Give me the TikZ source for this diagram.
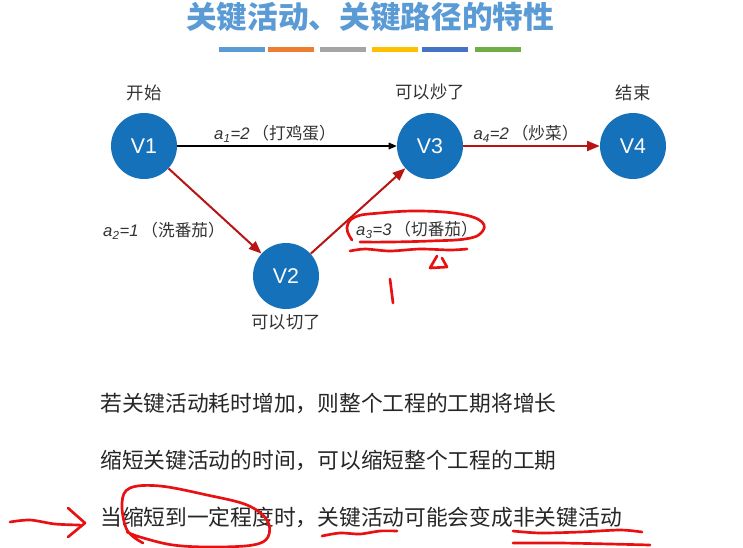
\documentclass[tikz,border=0pt]{standalone}
\usepackage{fontspec}
\setmainfont{Liberation Sans}
\newfontfamily\cjk{Noto Sans CJK SC}
\usetikzlibrary{arrows.meta, positioning}

\definecolor{vblue}{RGB}{20,113,186}
\definecolor{critred}{RGB}{185,20,20}
\definecolor{titleblue}{RGB}{91,155,213}
\definecolor{inkred}{RGB}{232,16,16}
\definecolor{barblue}{RGB}{91,155,213}
\definecolor{barorange}{RGB}{237,125,49}
\definecolor{bargray}{RGB}{165,165,165}
\definecolor{baryellow}{RGB}{255,192,0}
\definecolor{bardblue}{RGB}{68,114,196}
\definecolor{bargreen}{RGB}{112,173,71}

\begin{document}
\begin{tikzpicture}[
    x=0.75pt, y=-0.75pt,
    vertex/.style={circle, fill=vblue, minimum size=49.5pt, inner sep=0pt, text=white, font=\fontsize{16}{16}\selectfont},
    vlabel/.style={font=\cjk\fontsize{13}{13}\selectfont, text=black!80, inner sep=2pt},
    actlabel/.style={font=\fontsize{12.5}{12.5}\selectfont, text=black!80, inner sep=1pt},
    actarrow/.style={-{Triangle[length=6pt,width=5pt]}, line width=0.8pt, black},
    critarrow/.style={-{Triangle[length=9.5pt,width=7.5pt]}, line width=1.5pt, critred},
    body/.style={anchor=west, font=\cjk\fontsize{16.3}{16.3}\selectfont, text=black!85, inner sep=0pt},
    ink/.style={inkred, line width=2pt, line cap=round, line join=round},
    node distance=7pt
  ]
  \fill[white] (0,0) rectangle (743,547);
  \useasboundingbox (0,0) rectangle (743,547);

  % title and colour bars
  \node[font=\cjk\bfseries\fontsize{23}{23}\selectfont, text=titleblue] (title) at (370,17) {关键活动、关键路径的特性};
  \foreach \x/\c in {219/barblue, 268/barorange, 320/bargray, 372/baryellow, 422/bardblue, 475/bargreen}
    \fill[\c] (\x,47) rectangle ++(46,5);

  % events
  \node[vertex] (v1) at (144,146) {V1};
  \node[vertex] (v2) at (286,276) {V2};
  \node[vertex] (v3) at (430,146) {V3};
  \node[vertex] (v4) at (633,146) {V4};

  \node[vlabel, above=of v1] (s1) {开始};
  \node[vlabel, above=of v3] (s3) {可以炒了};
  \node[vlabel, above=of v4] (s4) {结束};
  \node[vlabel, below=1.5pt of v2] (s2) {可以切了};

  % activities
  \draw[actarrow] (v1) -- (v3);
  \draw[critarrow] (v1) -- (v2);
  \draw[critarrow] (v2) -- (v3);
  \draw[critarrow] (v3) -- (v4);

  \node[actlabel] (a1) at (275,134) {\textit{a}\textsubscript{\textit{1}}\textit{=2}\,{\cjk（打鸡蛋）}};
  \node[actlabel] (a2) at (164,231) {\textit{a}\textsubscript{\textit{2}}\textit{=1}\,{\cjk（洗番茄）}};
  \node[actlabel] (a3) at (417,230) {\textit{a}\textsubscript{\textit{3}}\textit{=3}\,{\cjk（切番茄）}};
  \node[actlabel] (a4) at (526,134) {\textit{a}\textsubscript{\textit{4}}\textit{=2}\,{\cjk（炒菜）}};

  % properties
  \node[body] (t1) at (100,403) {若关键活动耗时增加，则整个工程的工期将增长};
  \node[body] (t2) at (100,460) {缩短关键活动的时间，可以缩短整个工程的工期};
  \node[body] (t3) at (100,517) {当缩短到一定程度时，关键活动可能会变成非关键活动};

  % hand marks
  \draw[ink] plot[smooth, tension=0.7] coordinates {(352,240) (347,228) (355,217) (380,213) (420,211) (460,214) (482,222) (481,233) (465,239) (430,241) (390,242) (360,242)};
  \draw[ink] plot[smooth] coordinates {(350,251) (365,249) (390,251) (420,249) (450,250) (467,249)};
  \draw[ink] (437,256) -- (430,268) -- (447,267) -- (442,258);
  \draw[ink] (390,279) -- (393,303);
  \draw[ink] plot[smooth] coordinates {(10,522) (30,520) (55,524) (80,525)};
  \draw[ink] (68,508) -- (85,523) -- (68,537);
  \draw[ink] plot[smooth, tension=0.6] coordinates {(143,543) (127,530) (122,503) (130,488) (160,486) (207,495) (247,505) (267,520) (268,537) (253,545) (213,547) (173,545) (140,537) (127,532)};
  \draw[ink] plot[smooth] coordinates {(322,536) (340,533) (360,534) (380,531) (397,531)};
  \draw[ink] plot[smooth] coordinates {(513,531) (540,533) (580,532) (620,530) (642,532)};
  \draw[ink] plot[smooth] coordinates {(513,543) (560,543) (610,544) (650,545)};
\end{tikzpicture}
\end{document}
